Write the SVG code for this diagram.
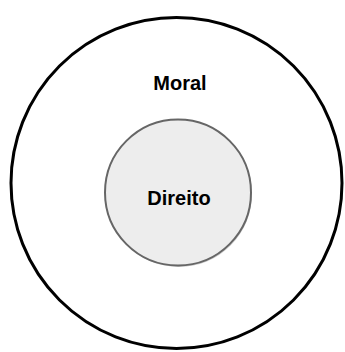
<svg xmlns="http://www.w3.org/2000/svg" width="345" height="352" viewBox="0 0 345 352">
<style>
.lbl{font-family:"Liberation Sans",Arial,sans-serif;font-weight:bold;font-size:20px;fill:#000;text-anchor:middle}
</style>
<rect width="345" height="352" fill="#fff"/>
<g id="moral">
<circle cx="176.5" cy="183" r="165.5" fill="none" stroke="#000" stroke-width="3"/>
<text class="lbl" x="180" y="90">Moral</text>
</g>
<g id="direito">
<circle cx="179" cy="194" r="73" fill="#999" opacity="0.5"/>
<circle cx="178" cy="192.5" r="73" fill="#ededed" stroke="#666" stroke-width="2"/>
<text class="lbl" x="179" y="205">Direito</text>
</g>
</svg>
